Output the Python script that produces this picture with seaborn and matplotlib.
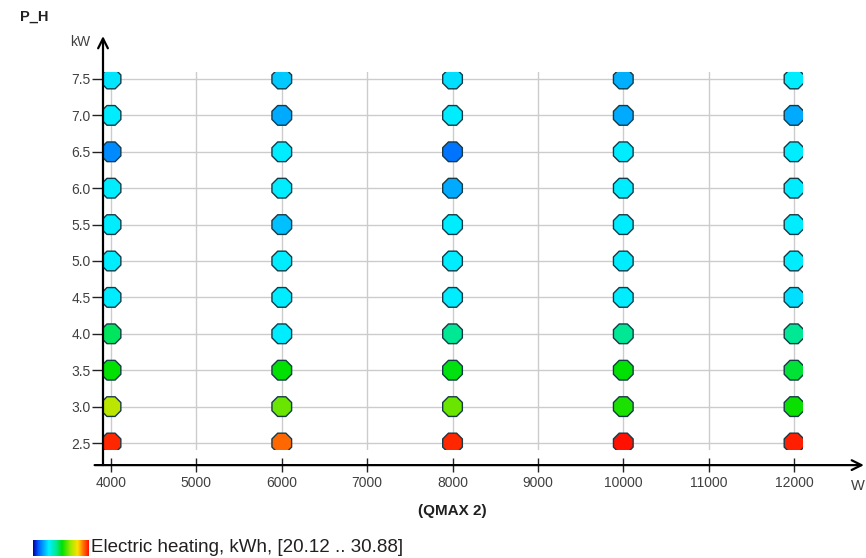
import numpy as np
import pandas as pd
import matplotlib
matplotlib.use("Agg")
import matplotlib.pyplot as plt
import seaborn as sns
from matplotlib import colors

# data
qmax = [4000, 6000, 8000, 10000, 12000]
p_h = [2.5, 3.0, 3.5, 4.0, 4.5, 5.0, 5.5, 6.0, 6.5, 7.0, 7.5]
# electric heating, kWh, one list per QMAX column (from P_H = 2.5 up to 7.5)
heat_4000 = [30.6, 27.7, 25.7, 25.0, 23.1, 23.1, 23.1, 23.1, 21.8, 23.1, 23.0]
heat_6000 = [29.9, 26.8, 25.7, 23.1, 23.1, 23.1, 22.5, 23.1, 23.1, 22.2, 22.6]
heat_8000 = [30.6, 26.8, 25.6, 24.6, 23.1, 23.1, 23.1, 22.2, 21.5, 23.1, 22.9]
heat_10000 = [30.88, 26.0, 25.7, 24.6, 23.1, 23.1, 23.1, 23.1, 23.1, 22.2, 22.3]
heat_12000 = [30.7, 25.8, 25.3, 24.6, 22.9, 23.1, 23.1, 23.1, 23.1, 22.2, 23.1]
vmin, vmax = 20.12, 30.88

heat = [heat_4000, heat_6000, heat_8000, heat_10000, heat_12000]
rows = []
for q, col in zip(qmax, heat):
    for p, v in zip(p_h, col):
        rows.append({"qmax": q, "p_h": p, "heat": v})
df = pd.DataFrame(rows)

# colour scale blue -> cyan -> green -> yellow -> red
cmap = colors.LinearSegmentedColormap.from_list("heat", [
    (0.0, "#0000a8"), (0.1, "#0060ff"), (0.28, "#00f0ff"), (0.42, "#00e890"),
    (0.52, "#00e000"), (0.68, "#a8e800"), (0.8, "#ffe000"), (0.9, "#ff7000"),
    (1.0, "#ff1000")])

plt.rcParams['font.family'] = ['Liberation Sans', 'DejaVu Sans']

fig = plt.figure(figsize=(8.66, 5.58), dpi=100)
W, H = 866, 558
# plot area in pixels: x 103..803, y 72..450
ax = fig.add_axes([103 / W, 1 - 450 / H, 700 / W, 378 / H])

sns.scatterplot(data=df, x="qmax", y="p_h", hue="heat", palette=cmap,
                hue_norm=(vmin, vmax), marker="8", s=235, edgecolor="#163a46",
                linewidth=1.0, legend=False, ax=ax, zorder=3)

ax.set_xlim(3906, 12105)
ax.set_ylim(2.404, 7.596)
ax.set_xticks(np.arange(4000, 12001, 1000))
ax.set_yticks(p_h)
ax.set_yticklabels([f"{v:.1f}" for v in p_h])
ax.grid(True, color="#cccccc", lw=1.0, zorder=0)
ax.set_axisbelow(True)
ax.set_xlabel("")
ax.set_ylabel("")
for s in ax.spines.values():
    s.set_visible(False)
ax.spines['bottom'].set_position(('outward', 11))
ax.tick_params(axis='x', direction='inout', length=10, width=1, color='#222222',
               labelsize=10, labelcolor='#404040', pad=3)
ax.tick_params(axis='y', direction='out', length=8, width=1, color='#222222',
               labelsize=10, labelcolor='#404040', pad=1)

# axis lines with arrows
ax.annotate('', xy=(1.087, -0.04), xytext=(-0.012, -0.04), xycoords='axes fraction',
            arrowprops=dict(arrowstyle='->,head_length=0.7,head_width=0.35',
                            color='black', lw=1.6, shrinkA=0, shrinkB=0),
            annotation_clip=False)
ax.annotate('', xy=(0.0, 1.095), xytext=(0.0, -0.04), xycoords='axes fraction',
            arrowprops=dict(arrowstyle='->,head_length=0.7,head_width=0.35',
                            color='black', lw=1.6, shrinkA=0, shrinkB=0),
            annotation_clip=False)

fig.text(20 / W, 1 - 17 / H, "P_H", fontsize=10.5, fontweight='bold', color='#202020',
         ha='left', va='center')
fig.text(90 / W, 1 - 42 / H, "kW", fontsize=10, color='#404040', ha='right', va='center')
fig.text(851 / W, 1 - 486 / H, "W", fontsize=10.5, color='#404040', ha='left', va='center')
fig.text(452 / W, 1 - 511 / H, "(QMAX 2)", fontsize=11, fontweight='bold',
         color='#202020', ha='center', va='center')

# colour legend
lax = fig.add_axes([33 / W, 1 - 556 / H, 55 / W, 16 / H])
lax.imshow(np.linspace(0, 1, 256)[None, :], aspect='auto', cmap=cmap)
lax.set_axis_off()
fig.text(91 / W, 1 - 548 / H, "Electric heating, kWh, [20.12 .. 30.88]", fontsize=13.5,
         color='#202020', ha='left', va='center')

fig.savefig("out.png", dpi=100)
